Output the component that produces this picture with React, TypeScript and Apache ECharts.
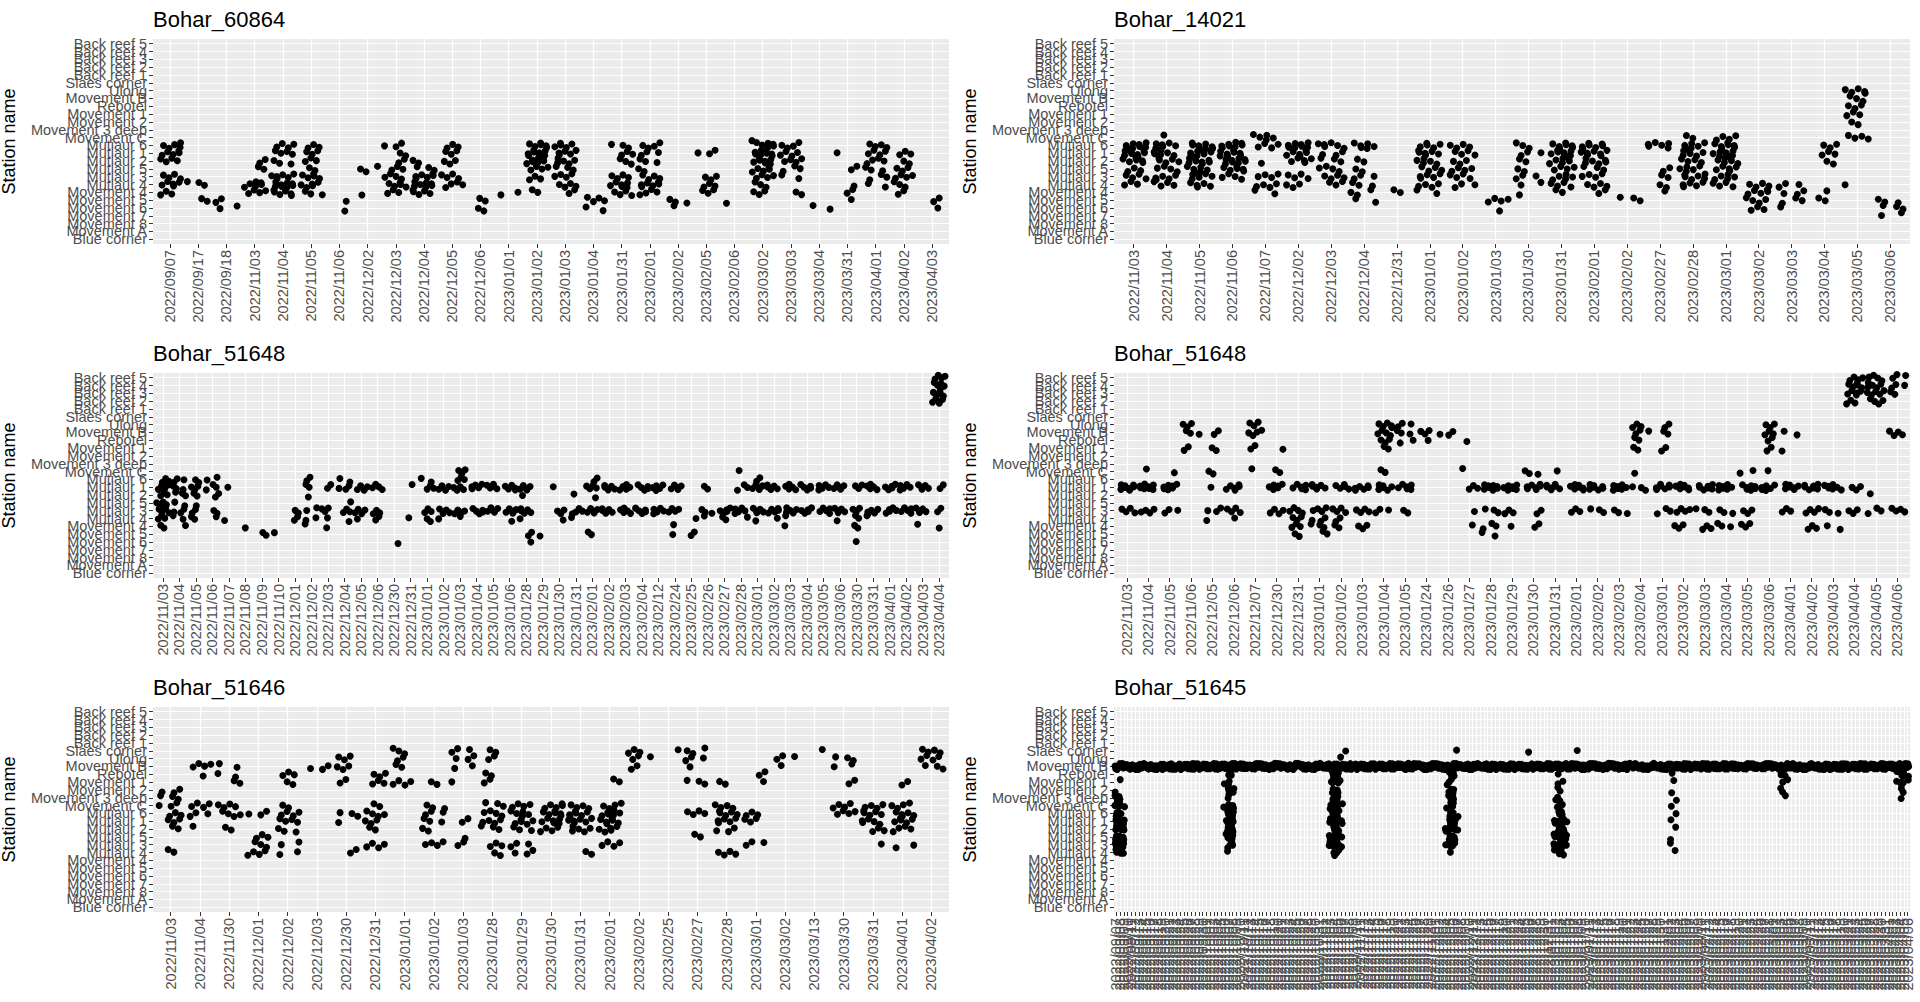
import React from "react";
import * as echarts from "echarts";

// station order, top of the panel to bottom
const stations = [
  "Back reef 5", "Back reef 4", "Back reef 3", "Back reef 2", "Back reef 1",
  "Slaes corner", "Ulong", "Movement B", "Rebotel", "Movement 1", "Movement 2",
  "Movement 3 deep", "Movement C", "Mutiaur 6", "Mutiaur 1", "Mutiaur 2", "Mutiaur 5",
  "Mutiaur 3", "Mutiaur 4", "Movement 4", "Movement 5", "Movement 6", "Movement 7",
  "Movement 8", "Movement A", "Blue corner",
];

// detections: [date index, station index, number of detections]
type Det = [number, number, number];

const dates60864 = [
  "2022/09/07", "2022/09/17", "2022/09/18", "2022/11/03", "2022/11/04", "2022/11/05", "2022/11/06",
  "2022/12/02", "2022/12/03", "2022/12/04", "2022/12/05", "2022/12/06", "2023/01/01", "2023/01/02",
  "2023/01/03", "2023/01/04", "2023/01/31", "2023/02/01", "2023/02/02", "2023/02/05", "2023/02/06",
  "2023/03/02", "2023/03/03", "2023/03/04", "2023/03/31", "2023/04/01", "2023/04/02", "2023/04/03",
];
const det60864: Det[] = [
  [0, 13, 5], [0, 14, 5], [0, 15, 4], [0, 17, 4], [0, 18, 5], [0, 19, 3],
  [1, 18, 3], [1, 20, 2], [2, 20, 2], [2, 21, 2],
  [3, 15, 2], [3, 16, 2], [3, 18, 6], [3, 19, 4],
  [4, 13, 4], [4, 14, 4], [4, 15, 3], [4, 17, 6], [4, 18, 8], [4, 19, 6],
  [5, 13, 3], [5, 14, 3], [5, 15, 3], [5, 16, 2], [5, 17, 5], [5, 18, 5], [5, 19, 3],
  [6, 20, 1], [6, 21, 1], [7, 16, 3], [7, 19, 1],
  [8, 13, 3], [8, 14, 2], [8, 15, 2], [8, 16, 3], [8, 17, 4], [8, 18, 5], [8, 19, 3],
  [9, 15, 2], [9, 16, 3], [9, 17, 6], [9, 18, 7], [9, 19, 5],
  [10, 13, 3], [10, 14, 3], [10, 15, 3], [10, 17, 4], [10, 18, 4],
  [11, 20, 2], [11, 21, 2], [12, 19, 2],
  [13, 13, 6], [13, 14, 8], [13, 15, 7], [13, 16, 4], [13, 17, 3], [13, 19, 2],
  [14, 13, 5], [14, 14, 5], [14, 15, 5], [14, 16, 3], [14, 17, 4], [14, 18, 4], [14, 19, 2],
  [15, 20, 4], [15, 21, 2],
  [16, 13, 3], [16, 14, 3], [16, 15, 3], [16, 17, 4], [16, 18, 6], [16, 19, 4],
  [17, 13, 4], [17, 14, 3], [17, 15, 3], [17, 16, 2], [17, 17, 4], [17, 18, 6], [17, 19, 4],
  [18, 20, 3], [18, 21, 1],
  [19, 14, 3], [19, 17, 3], [19, 18, 3], [19, 19, 3], [20, 20, 1],
  [21, 12, 1], [21, 13, 6], [21, 14, 8], [21, 15, 7], [21, 16, 5], [21, 17, 4], [21, 18, 3], [21, 19, 3],
  [22, 13, 4], [22, 14, 4], [22, 15, 4], [22, 16, 3], [22, 17, 2], [22, 19, 2],
  [23, 21, 2],
  [24, 14, 1], [24, 16, 2], [24, 18, 1], [24, 19, 2], [24, 20, 1],
  [25, 13, 4], [25, 14, 4], [25, 15, 4], [25, 16, 3], [25, 17, 3], [25, 18, 2],
  [26, 14, 3], [26, 15, 2], [26, 16, 3], [26, 17, 4], [26, 18, 3], [26, 19, 2],
  [27, 20, 2], [27, 21, 1],
];

const dates14021 = [
  "2022/11/03", "2022/11/04", "2022/11/05", "2022/11/06", "2022/11/07", "2022/12/02", "2022/12/03",
  "2022/12/04", "2022/12/31", "2023/01/01", "2023/01/02", "2023/01/03", "2023/01/30", "2023/01/31",
  "2023/02/01", "2023/02/02", "2023/02/27", "2023/02/28", "2023/03/01", "2023/03/02", "2023/03/03",
  "2023/03/04", "2023/03/05", "2023/03/06",
];
const det14021: Det[] = [
  [0, 13, 8], [0, 14, 8], [0, 15, 6], [0, 16, 3], [0, 17, 4], [0, 18, 3],
  [1, 12, 1], [1, 13, 6], [1, 14, 6], [1, 15, 5], [1, 16, 4], [1, 17, 5], [1, 18, 4],
  [2, 13, 8], [2, 14, 8], [2, 15, 8], [2, 16, 6], [2, 17, 6], [2, 18, 5],
  [3, 13, 8], [3, 14, 8], [3, 15, 8], [3, 16, 6], [3, 17, 4],
  [4, 12, 5], [4, 13, 4], [4, 15, 1], [4, 17, 4], [4, 18, 4], [4, 19, 2],
  [5, 13, 8], [5, 14, 6], [5, 15, 5], [5, 17, 4], [5, 18, 3],
  [6, 13, 6], [6, 14, 3], [6, 15, 3], [6, 16, 4], [6, 17, 4], [6, 18, 3],
  [7, 13, 6], [7, 15, 2], [7, 16, 2], [7, 17, 3], [7, 18, 3], [7, 19, 3], [7, 20, 2],
  [8, 19, 2],
  [9, 13, 5], [9, 14, 6], [9, 15, 5], [9, 16, 4], [9, 17, 5], [9, 18, 4], [9, 19, 2],
  [10, 13, 4], [10, 14, 4], [10, 15, 3], [10, 16, 4], [10, 17, 4], [10, 18, 3],
  [11, 20, 4], [11, 21, 1],
  [12, 13, 3], [12, 14, 3], [12, 15, 2], [12, 16, 2], [12, 17, 3], [12, 18, 2], [12, 19, 1],
  [13, 13, 7], [13, 14, 7], [13, 15, 6], [13, 16, 4], [13, 17, 5], [13, 18, 4], [13, 19, 2],
  [14, 13, 7], [14, 14, 7], [14, 15, 6], [14, 16, 3], [14, 17, 4], [14, 18, 4], [14, 19, 2],
  [15, 20, 3],
  [16, 13, 6], [16, 16, 2], [16, 17, 2], [16, 18, 2], [16, 19, 1],
  [17, 12, 2], [17, 13, 6], [17, 14, 6], [17, 15, 4], [17, 16, 5], [17, 17, 6], [17, 18, 5],
  [18, 12, 4], [18, 13, 7], [18, 14, 7], [18, 15, 6], [18, 16, 5], [18, 17, 5], [18, 18, 4],
  [19, 18, 4], [19, 19, 5], [19, 20, 4], [19, 21, 3],
  [20, 18, 3], [20, 19, 3], [20, 20, 3], [20, 21, 1],
  [21, 13, 3], [21, 14, 3], [21, 15, 2], [21, 19, 1], [21, 20, 2],
  [22, 6, 5], [22, 7, 3], [22, 8, 3], [22, 9, 3], [22, 10, 2], [22, 12, 4], [22, 18, 1],
  [23, 20, 3], [23, 21, 3], [23, 22, 2],
];

const dates51648a = [
  "2022/11/03", "2022/11/04", "2022/11/05", "2022/11/06", "2022/11/07", "2022/11/08", "2022/11/09",
  "2022/11/10", "2022/12/01", "2022/12/02", "2022/12/03", "2022/12/04", "2022/12/05", "2022/12/06",
  "2022/12/30", "2022/12/31", "2023/01/01", "2023/01/02", "2023/01/03", "2023/01/04", "2023/01/05",
  "2023/01/06", "2023/01/28", "2023/01/29", "2023/01/30", "2023/01/31", "2023/02/01", "2023/02/02",
  "2023/02/03", "2023/02/04", "2023/02/12", "2023/02/24", "2023/02/25", "2023/02/26", "2023/02/27",
  "2023/02/28", "2023/03/01", "2023/03/02", "2023/03/03", "2023/03/04", "2023/03/05", "2023/03/06",
  "2023/03/30", "2023/03/31", "2023/04/01", "2023/04/02", "2023/04/03", "2023/04/04",
];
const det51648a: Det[] = [
  [0, 13, 3], [0, 14, 4], [0, 15, 3], [0, 16, 4], [0, 17, 4], [0, 18, 3], [0, 19, 2],
  [1, 13, 3], [1, 14, 3], [1, 15, 3], [1, 16, 2], [1, 17, 3], [1, 18, 2], [1, 19, 1],
  [2, 13, 2], [2, 14, 3], [2, 15, 2], [2, 16, 1], [2, 17, 2], [2, 18, 2],
  [3, 13, 2], [3, 14, 3], [3, 15, 2], [3, 17, 2], [3, 18, 1],
  [4, 14, 1], [4, 18, 1], [5, 19, 1], [6, 20, 2], [7, 20, 1],
  [8, 17, 2], [8, 18, 2],
  [9, 13, 2], [9, 14, 2], [9, 15, 1], [9, 17, 2], [9, 18, 2], [9, 19, 1],
  [10, 14, 2], [10, 17, 3], [10, 18, 1], [10, 19, 1],
  [11, 13, 2], [11, 14, 3], [11, 16, 1], [11, 17, 3], [11, 18, 1],
  [12, 14, 4], [12, 17, 4], [12, 18, 1],
  [13, 14, 4], [13, 17, 3], [13, 18, 2],
  [14, 21, 1], [15, 14, 1], [15, 18, 1],
  [16, 13, 2], [16, 14, 3], [16, 17, 3], [16, 18, 2],
  [17, 14, 4], [17, 17, 4], [17, 18, 1],
  [18, 12, 3], [18, 13, 3], [18, 14, 4], [18, 17, 4], [18, 18, 1],
  [19, 14, 5], [19, 17, 5], [20, 14, 5], [20, 17, 5],
  [21, 14, 5], [21, 17, 5], [21, 18, 1],
  [22, 14, 5], [22, 15, 1], [22, 17, 5], [22, 18, 1], [22, 20, 2], [22, 21, 1],
  [23, 20, 1],
  [24, 14, 1], [24, 17, 3], [24, 18, 1],
  [25, 15, 1], [25, 17, 4], [25, 18, 1],
  [26, 13, 2], [26, 14, 4], [26, 15, 1], [26, 17, 5], [26, 20, 2],
  [27, 14, 5], [27, 17, 5], [28, 14, 5], [28, 17, 5], [29, 14, 5], [29, 17, 5],
  [30, 14, 5], [30, 17, 5],
  [31, 14, 5], [31, 17, 4], [31, 19, 1], [31, 20, 1],
  [32, 18, 1], [32, 20, 2],
  [33, 14, 2], [33, 17, 3], [33, 18, 1],
  [34, 17, 5], [34, 18, 2],
  [35, 12, 1], [35, 14, 3], [35, 17, 5], [35, 18, 1],
  [36, 13, 2], [36, 14, 5], [36, 17, 5], [36, 18, 1],
  [37, 14, 5], [37, 17, 5], [37, 18, 1],
  [38, 14, 5], [38, 17, 5], [38, 18, 1], [38, 19, 1],
  [39, 14, 5], [39, 17, 5], [40, 14, 5], [40, 17, 5],
  [41, 14, 5], [41, 17, 5], [41, 18, 1],
  [42, 14, 3], [42, 17, 3], [42, 18, 2], [42, 19, 2], [42, 21, 1],
  [43, 14, 5], [43, 17, 5], [43, 18, 1],
  [44, 14, 5], [44, 17, 5], [45, 14, 5], [45, 17, 5],
  [46, 14, 5], [46, 17, 5], [46, 19, 1],
  [47, 0, 4], [47, 1, 5], [47, 2, 5], [47, 3, 5], [47, 14, 2], [47, 17, 2], [47, 19, 1],
];

const dates51648b = [
  "2022/11/03", "2022/11/04", "2022/11/05", "2022/11/06", "2022/12/05", "2022/12/06", "2022/12/07",
  "2022/12/30", "2022/12/31", "2023/01/01", "2023/01/02", "2023/01/03", "2023/01/04", "2023/01/05",
  "2023/01/24", "2023/01/26", "2023/01/27", "2023/01/28", "2023/01/29", "2023/01/30", "2023/01/31",
  "2023/02/01", "2023/02/02", "2023/02/03", "2023/02/04", "2023/03/01", "2023/03/02", "2023/03/03",
  "2023/03/04", "2023/03/05", "2023/03/06", "2023/04/01", "2023/04/02", "2023/04/03", "2023/04/04",
  "2023/04/05", "2023/04/06",
];
const det51648b: Det[] = [
  [0, 14, 8], [0, 17, 4],
  [1, 12, 1], [1, 14, 8], [1, 17, 4],
  [2, 12, 1], [2, 14, 7], [2, 17, 3],
  [3, 6, 3], [3, 7, 3], [3, 9, 2],
  [4, 7, 2], [4, 9, 2], [4, 12, 2], [4, 14, 1], [4, 17, 3], [4, 18, 1],
  [5, 14, 6], [5, 17, 4], [5, 18, 1],
  [6, 6, 3], [6, 7, 4], [6, 9, 2], [6, 12, 1],
  [7, 9, 1], [7, 12, 2], [7, 14, 6], [7, 17, 4],
  [8, 14, 6], [8, 17, 4], [8, 18, 3], [8, 19, 3], [8, 20, 2],
  [9, 14, 6], [9, 17, 4], [9, 18, 3], [9, 19, 3], [9, 20, 2],
  [10, 14, 5], [10, 17, 4], [10, 18, 2], [10, 19, 2],
  [11, 14, 6], [11, 17, 4], [11, 19, 3],
  [12, 6, 5], [12, 7, 4], [12, 8, 3], [12, 9, 2], [12, 12, 2], [12, 14, 6], [12, 17, 3],
  [13, 6, 3], [13, 7, 3], [13, 8, 2], [13, 14, 6], [13, 17, 2],
  [14, 7, 3], [14, 8, 1], [15, 7, 3],
  [16, 8, 1], [16, 12, 1], [16, 14, 3], [16, 17, 1], [16, 19, 1],
  [17, 14, 8], [17, 17, 3], [17, 19, 3], [17, 20, 2],
  [18, 14, 7], [18, 17, 3], [18, 19, 1],
  [19, 12, 3], [19, 14, 7], [19, 17, 2], [19, 19, 2],
  [20, 12, 1], [20, 14, 7],
  [21, 14, 7], [21, 17, 3], [22, 14, 7], [22, 17, 3], [23, 14, 7], [23, 17, 3],
  [24, 6, 3], [24, 7, 3], [24, 8, 2], [24, 9, 2], [24, 12, 1], [24, 14, 3],
  [25, 6, 2], [25, 7, 2], [25, 9, 2], [25, 14, 7], [25, 17, 3],
  [26, 14, 7], [26, 17, 4], [26, 19, 3],
  [27, 14, 7], [27, 17, 3], [27, 19, 3],
  [28, 14, 7], [28, 17, 3], [28, 19, 3],
  [29, 12, 2], [29, 14, 7], [29, 17, 3], [29, 19, 3],
  [30, 6, 3], [30, 7, 3], [30, 8, 2], [30, 9, 2], [30, 12, 1], [30, 14, 6],
  [31, 7, 2], [31, 9, 1], [31, 14, 7], [31, 17, 3],
  [32, 14, 7], [32, 17, 4], [32, 19, 3],
  [33, 14, 7], [33, 17, 3], [33, 19, 2],
  [34, 0, 4], [34, 1, 5], [34, 2, 5], [34, 3, 3], [34, 14, 3], [34, 17, 3],
  [35, 0, 4], [35, 1, 5], [35, 2, 5], [35, 3, 4], [35, 15, 1], [35, 17, 3],
  [36, 0, 3], [36, 1, 3], [36, 2, 2], [36, 7, 4], [36, 17, 4],
];

const dates51646 = [
  "2022/11/03", "2022/11/04", "2022/11/30", "2022/12/01", "2022/12/02", "2022/12/03", "2022/12/30",
  "2022/12/31", "2023/01/01", "2023/01/02", "2023/01/03", "2023/01/28", "2023/01/29", "2023/01/30",
  "2023/01/31", "2023/02/01", "2023/02/02", "2023/02/25", "2023/02/27", "2023/02/28", "2023/03/01",
  "2023/03/02", "2023/03/13", "2023/03/30", "2023/03/31", "2023/04/01", "2023/04/02",
];
const det51646: Det[] = [
  [0, 10, 3], [0, 11, 3], [0, 12, 3], [0, 13, 3], [0, 14, 3], [0, 15, 2], [0, 18, 2],
  [1, 7, 4], [1, 8, 1], [1, 12, 4], [1, 13, 3], [1, 15, 1],
  [2, 7, 2], [2, 8, 2], [2, 9, 2], [2, 12, 4], [2, 13, 4], [2, 15, 2],
  [3, 13, 3], [3, 16, 3], [3, 17, 3], [3, 18, 4],
  [4, 8, 3], [4, 9, 2], [4, 12, 2], [4, 13, 4], [4, 14, 4], [4, 15, 3], [4, 17, 2], [4, 18, 2],
  [5, 7, 3],
  [6, 6, 3], [6, 7, 3], [6, 9, 2], [6, 13, 3], [6, 14, 1], [6, 18, 2],
  [7, 8, 3], [7, 9, 3], [7, 12, 2], [7, 13, 4], [7, 14, 3], [7, 15, 2], [7, 17, 4],
  [8, 5, 3], [8, 6, 2], [8, 7, 2], [8, 9, 4],
  [9, 9, 2], [9, 12, 3], [9, 13, 3], [9, 14, 3], [9, 15, 2], [9, 17, 4],
  [10, 5, 3], [10, 6, 3], [10, 7, 2], [10, 9, 1], [10, 14, 2], [10, 16, 1], [10, 17, 2],
  [11, 5, 2], [11, 6, 2], [11, 8, 2], [11, 9, 2], [11, 12, 3], [11, 13, 4], [11, 14, 4],
  [11, 15, 3], [11, 17, 3], [11, 18, 2],
  [12, 12, 4], [12, 13, 5], [12, 14, 5], [12, 15, 3], [12, 17, 3], [12, 18, 3],
  [13, 12, 5], [13, 13, 6], [13, 14, 6], [13, 15, 4],
  [14, 12, 4], [14, 13, 6], [14, 14, 6], [14, 15, 5], [14, 18, 2],
  [15, 9, 2], [15, 12, 4], [15, 13, 6], [15, 14, 6], [15, 15, 5], [15, 17, 4],
  [16, 5, 3], [16, 6, 3], [16, 7, 2],
  [17, 5, 1],
  [18, 5, 3], [18, 6, 3], [18, 7, 1], [18, 9, 3], [18, 13, 4], [18, 16, 2],
  [19, 9, 2], [19, 12, 4], [19, 13, 5], [19, 14, 5], [19, 15, 3], [19, 18, 4],
  [20, 8, 2], [20, 9, 1], [20, 13, 3], [20, 14, 3], [20, 17, 3],
  [21, 6, 3], [21, 7, 1],
  [22, 5, 1],
  [23, 6, 3], [23, 7, 2], [23, 9, 2], [23, 12, 4], [23, 13, 4],
  [24, 12, 4], [24, 13, 5], [24, 14, 5], [24, 15, 3], [24, 17, 1],
  [25, 9, 2], [25, 12, 4], [25, 13, 5], [25, 14, 5], [25, 15, 4], [25, 17, 2],
  [26, 5, 4], [26, 6, 4], [26, 7, 3],
];

// Bohar_51645: one x category per day, 2022/09/07 .. 2023/04/06
const firstDay51645 = Date.UTC(2022, 8, 7);
const dayCount51645 = 212;
const dates51645 = Array.from({ length: dayCount51645 }, (_, i) => {
  const d = new Date(firstDay51645 + i * 86400000);
  const mm = String(d.getUTCMonth() + 1).padStart(2, "0");
  const dd = String(d.getUTCDate()).padStart(2, "0");
  return `${d.getUTCFullYear()}/${mm}/${dd}`;
});
// daily detections at Movement B (the continuous band)
const movementB51645 = (
  "3454435445" + "4354453544" + "5443544354" + "4535443545" + "3544535443" +
  "5435443554" + "4453544354" + "3545443545" + "4354435544" + "5443554435" +
  "4535445354" + "3544354453" + "4453545344" + "5344535443" + "4435443554" +
  "3554435445" + "4453544353" + "5435443545" + "4544354435" + "3545443554" +
  "4354454435" + "54435445"
).split("").map(Number);
const other51645: Det[] = [
  [0, 10, 1], [0, 11, 2], [0, 12, 2], [0, 13, 3], [0, 14, 3], [0, 15, 3], [0, 16, 3], [0, 17, 3], [0, 18, 2],
  [1, 9, 1], [1, 11, 2], [1, 12, 2], [1, 13, 3], [1, 14, 3], [1, 15, 3], [1, 16, 3], [1, 17, 3], [1, 18, 2],
  [2, 12, 1], [2, 14, 2], [2, 15, 2], [2, 16, 2], [2, 17, 2], [2, 18, 1],
  [29, 9, 1], [29, 12, 1], [29, 14, 1], [29, 16, 1],
  [30, 8, 2], [30, 9, 2], [30, 10, 2], [30, 11, 2], [30, 12, 2], [30, 13, 3], [30, 14, 3], [30, 15, 3],
  [30, 16, 3], [30, 17, 2], [30, 18, 1],
  [31, 8, 1], [31, 10, 2], [31, 12, 2], [31, 13, 2], [31, 14, 3], [31, 15, 3], [31, 16, 2], [31, 17, 2],
  [57, 9, 1], [57, 12, 2], [57, 14, 2], [57, 16, 2], [57, 17, 2],
  [58, 8, 2], [58, 9, 2], [58, 10, 2], [58, 11, 2], [58, 12, 3], [58, 13, 3], [58, 14, 3], [58, 15, 3],
  [58, 16, 3], [58, 17, 3], [58, 18, 2],
  [59, 8, 2], [59, 9, 2], [59, 10, 2], [59, 11, 2], [59, 12, 3], [59, 13, 3], [59, 14, 3], [59, 15, 3],
  [59, 16, 3], [59, 17, 3], [59, 18, 2],
  [60, 6, 1], [60, 9, 1], [60, 12, 1], [60, 14, 2], [60, 16, 1], [60, 17, 1],
  [61, 5, 1],
  [88, 9, 1], [88, 12, 1], [88, 15, 2], [88, 17, 1],
  [89, 8, 2], [89, 9, 2], [89, 10, 2], [89, 11, 2], [89, 12, 2], [89, 13, 3], [89, 14, 3], [89, 15, 3],
  [89, 16, 3], [89, 17, 3], [89, 18, 1],
  [90, 8, 2], [90, 10, 2], [90, 11, 2], [90, 12, 2], [90, 13, 2], [90, 14, 3], [90, 15, 3], [90, 16, 3], [90, 17, 2],
  [91, 5, 1], [91, 13, 1], [91, 15, 1],
  [110, 5, 1],
  [117, 11, 1], [117, 14, 2], [117, 16, 2], [117, 17, 2], [117, 18, 1],
  [118, 8, 1], [118, 9, 1], [118, 10, 2], [118, 11, 2], [118, 12, 2], [118, 13, 3], [118, 14, 3], [118, 15, 3],
  [118, 16, 3], [118, 17, 3], [118, 18, 2],
  [119, 9, 1], [119, 12, 1], [119, 13, 2], [119, 14, 3], [119, 15, 3], [119, 16, 3], [119, 17, 3], [119, 18, 2],
  [120, 14, 1], [120, 16, 2], [120, 17, 1],
  [123, 5, 1],
  [148, 8, 1], [148, 10, 1], [148, 12, 1], [148, 14, 1], [148, 16, 1], [148, 17, 1],
  [149, 9, 1], [149, 11, 1], [149, 13, 1], [149, 15, 1], [149, 18, 1],
  [177, 8, 1], [177, 10, 1], [178, 8, 2], [178, 9, 1], [178, 10, 1], [178, 11, 1], [179, 9, 1],
  [208, 8, 1], [208, 9, 1], [209, 8, 2], [209, 9, 2], [209, 10, 1], [209, 11, 1],
  [210, 8, 2], [210, 9, 1], [210, 10, 1], [211, 8, 1], [211, 9, 1],
];
const det51645: Det[] = [
  ...movementB51645.map((n, d): Det => [d, 7, n]),
  ...other51645,
];

const panels = [
  { title: "Bohar_60864", dates: dates60864, det: det60864 },
  { title: "Bohar_14021", dates: dates14021, det: det14021 },
  { title: "Bohar_51648", dates: dates51648a, det: det51648a },
  { title: "Bohar_51648", dates: dates51648b, det: det51648b },
  { title: "Bohar_51646", dates: dates51646, det: det51646 },
  { title: "Bohar_51645", dates: dates51645, det: det51645 },
];

// position_jitter-like spread of each detection inside its date/station cell
// (quasi-random R2 sequence, so the layout is stable between renders)
function spread(det: Det[]) {
  const pts: number[][] = [];
  det.forEach(([d, s, n]) => {
    let u = ((d * 37 + s * 91) % 97) / 97;
    let v = ((d * 53 + s * 29) % 89) / 89;
    for (let i = 0; i < n; i++) {
      u = (u + 0.7548776662) % 1;
      v = (v + 0.569840291) % 1;
      pts.push([d + (u - 0.5) * 0.8, s + (v - 0.5) * 0.8]);
    }
  });
  return pts;
}

const FONT = "Liberation Sans, Arial, sans-serif";
const labelStyle = { fontFamily: FONT, fontSize: 14.5, color: "#4D4D4D" };
const gridLine = { show: true, lineStyle: { color: "#FFFFFF", width: 1.2 } };
const PANEL_W = 796;
const PANEL_H = 205;
const PAD = 0.6; // ggplot discrete expansion, in category units

export default function App() {
  const ref = React.useRef<HTMLDivElement>(null);

  React.useEffect(() => {
    document.body.style.margin = "0";
    if (!ref.current) return;
    const chart = echarts.init(ref.current, null, { renderer: "svg" });

    const titles: any[] = [];
    const grids: any[] = [];
    const xAxes: any[] = [];
    const yAxes: any[] = [];
    const series: any[] = [];

    panels.forEach((p, i) => {
      const left = i % 2 === 0 ? 153 : 1114;
      const top = 39 + Math.floor(i / 2) * 334;
      const n = p.dates.length;
      const m = stations.length;
      const ux = PANEL_W / (n - 1 + 2 * PAD);
      const uy = PANEL_H / (m - 1 + 2 * PAD);
      const insetX = (PAD - 0.5) * ux;
      const insetY = (PAD - 0.5) * uy;
      const xIdx = p.dates.map((_, k) => k);
      const yIdx = stations.map((_, k) => k);

      titles.push({
        text: p.title,
        left,
        top: top - 31,
        padding: 0,
        textStyle: { fontFamily: FONT, fontSize: 22, fontWeight: "normal", color: "#000" },
      });
      // panel (grey background, grid lines, points)
      grids.push({
        left, top, width: PANEL_W, height: PANEL_H,
        show: true,
        backgroundColor: "#EBEBEB",
        borderWidth: 0,
        containLabel: false,
        outerBoundsMode: "none",
      });
      // discrete scale frame for ticks and labels, aligned on the panel's categories
      grids.push({
        left: left + insetX, top: top + insetY,
        width: n * ux, height: m * uy,
        show: false,
        containLabel: false,
        outerBoundsMode: "none",
      });

      xAxes.push({
        type: "value",
        gridIndex: 2 * i,
        min: -PAD,
        max: n - 1 + PAD,
        axisLine: { show: false, onZero: false },
        axisTick: { show: false, customValues: xIdx },
        axisLabel: { show: false },
        splitLine: gridLine,
      });
      yAxes.push({
        type: "value",
        gridIndex: 2 * i,
        inverse: true,
        min: -PAD,
        max: m - 1 + PAD,
        axisLine: { show: false, onZero: false },
        axisTick: { show: false, customValues: yIdx },
        axisLabel: { show: false },
        splitLine: gridLine,
      });

      xAxes.push({
        type: "category",
        gridIndex: 2 * i + 1,
        position: "bottom",
        offset: insetY,
        data: p.dates,
        boundaryGap: true,
        axisLine: { show: false, onZero: false },
        axisTick: { show: true, alignWithLabel: true, interval: 0, length: 4, lineStyle: { color: "#333333" } },
        axisLabel: { ...labelStyle, interval: 0, rotate: 90, margin: 6 },
        splitLine: { show: false },
      });
      yAxes.push({
        type: "category",
        gridIndex: 2 * i + 1,
        position: "left",
        offset: insetX,
        inverse: true,
        data: stations,
        boundaryGap: true,
        name: "Station name",
        nameLocation: "middle",
        nameGap: 135,
        nameTextStyle: { fontFamily: FONT, fontSize: 18, color: "#000" },
        axisLine: { show: false, onZero: false },
        axisTick: { show: true, alignWithLabel: true, interval: 0, length: 4, lineStyle: { color: "#333333" } },
        axisLabel: { ...labelStyle, interval: 0, margin: 6 },
        splitLine: { show: false },
      });

      series.push({
        type: "scatter",
        xAxisIndex: 2 * i,
        yAxisIndex: 2 * i,
        symbol: "circle",
        symbolSize: 7,
        itemStyle: { color: "#000000", opacity: 1 },
        silent: true,
        data: spread(p.det),
      });
    });

    chart.setOption({
      animation: false,
      backgroundColor: "#FFFFFF",
      title: titles,
      grid: grids,
      xAxis: xAxes,
      yAxis: yAxes,
      series,
    });
    return () => chart.dispose();
  }, []);

  return <div ref={ref} style={{ width: 1920, height: 1002 }} />;
}
